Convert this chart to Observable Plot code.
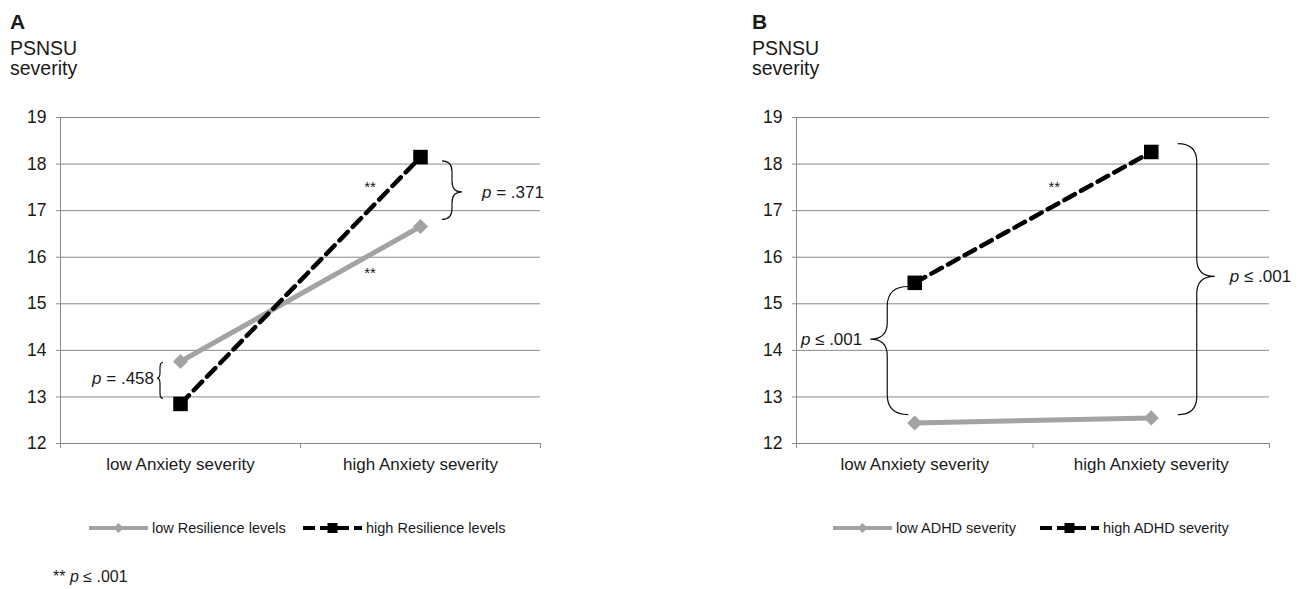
<!DOCTYPE html>
<html><head><meta charset="utf-8">
<script src="https://cdn.jsdelivr.net/npm/d3@7"></script>
<script src="https://cdn.jsdelivr.net/npm/@observablehq/plot@0.6"></script>
<style>
body{margin:0;background:#fff;font-family:"Liberation Sans",Arial,sans-serif;color:#1a1a1a}
#wrap{position:relative;width:1309px;height:589px;overflow:hidden;background:#fff}
.abs{position:absolute;white-space:nowrap}
.letter{font-weight:bold;font-size:21px;line-height:21px}
.ylab{font-size:19.5px;line-height:19.5px}
.leg{position:absolute;display:flex;align-items:center;height:20px;font-size:14.5px;white-space:nowrap}
.leg svg{margin-right:4px}
.foot{font-size:16px;line-height:16px}
</style></head><body><div id="wrap"></div>
<script>
// ---- data ----
const categories = ["low Anxiety severity", "high Anxiety severity"];
const yTicks = [12, 13, 14, 15, 16, 17, 18, 19];
const resilienceLow = [13.76, 16.66];
const resilienceHigh = [12.85, 18.15];
const adhdLow = [12.44, 12.55];
const adhdHigh = [15.45, 18.26];
const seriesNamesA = ["low Resilience levels", "high Resilience levels"];
const seriesNamesB = ["low ADHD severity", "high ADHD severity"];
const bracketLabelsA = ["= .458", "= .371"];
const bracketLabelsB = ["\u2264 .001", "\u2264 .001"];
const bracketTopA = [13.73, 18.06];
const bracketBottomA = [12.96, 16.80];
const bracketTopB = [15.36, 18.43];
const bracketBottomB = [12.61, 12.61];
const starXA = [1.29, 1.29];
const starYA = [17.50, 15.65];
const starXB = [1.09];
const starYB = [17.50];

const GRAY = "#a3a3a3";
const AXIS = "#8a8a8a";
const FONT = "'Liberation Sans', Arial, sans-serif";

// geometry of the braces (pixel offsets from category centre), style only
const geomA = [
  {arm: -17, mid: -20, tip: -23, tipFrac: 0.44, gap: 3},
  {arm: 22, mid: 32, tip: 42, tipFrac: 0.53, gap: 20}
];
const geomB = [
  {arm: -6, mid: -27, tip: -44, tipFrac: 0.41, gap: 8},
  {arm: 27, mid: 46, tip: 64, tipFrac: 0.49, gap: 15}
];

function bracesMark(tops, bottoms, labels, geom) {
  return (index, scales) => {
    const g = d3.create("svg:g");
    tops.forEach((t, i) => {
      const gm = geom[i];
      const cx = scales.x(i + 0.5);
      const yT = scales.y(t), yB = scales.y(bottoms[i]);
      const yM = yT + (yB - yT) * gm.tipFrac;
      const xa = cx + gm.arm, xm = cx + gm.mid, xt = cx + gm.tip;
      const rA = Math.min(Math.abs(xm - xa) * 0.8 + 3, (yM - yT) / 2, (yB - yM) / 2);
      const rT = Math.min(Math.abs(xt - xm) * 0.8 + 3, (yM - yT) / 2, (yB - yM) / 2);
      const d = `M${xa},${yT} Q${xm},${yT} ${xm},${yT + rA} L${xm},${yM - rT} Q${xm},${yM} ${xt},${yM}` +
                ` Q${xm},${yM} ${xm},${yM + rT} L${xm},${yB - rA} Q${xm},${yB} ${xa},${yB}`;
      g.append("path").attr("d", d).attr("fill", "none").attr("stroke", "#111").attr("stroke-width", 1.2);
      const left = gm.tip < gm.mid;
      const tx = left ? xt - gm.gap : xt + gm.gap;
      const text = g.append("text").attr("x", tx).attr("y", yM).attr("dy", "0.35em")
        .attr("text-anchor", left ? "end" : "start").attr("font-size", 17).attr("fill", "#1a1a1a");
      text.append("tspan").attr("font-style", "italic").text("p");
      text.append("tspan").text(" " + labels[i]);
    });
    return g.node();
  };
}

function panel(lowVals, highVals, tops, bottoms, labels, geom, starX, starY, width, marginRight) {
  const low = categories.map((c, i) => ({x: i + 0.5, y: lowVals[i]}));
  const high = categories.map((c, i) => ({x: i + 0.5, y: highVals[i]}));
  const stars = starX.map((x, i) => ({x, y: starY[i]}));
  return Plot.plot({
    width, height: 380,
    marginLeft: 60, marginRight, marginTop: 17, marginBottom: 37,
    x: {domain: [0, 2], axis: null},
    y: {domain: [12, 19], axis: null},
    style: {fontFamily: FONT, fontSize: "17px", color: "#1a1a1a", background: "transparent", overflow: "visible"},
    marks: [
      Plot.gridY({ticks: yTicks, stroke: AXIS, strokeOpacity: 1, strokeWidth: 1}),
      Plot.ruleX([0], {stroke: AXIS, strokeWidth: 1}),
      Plot.axisY({ticks: yTicks, tickFormat: d3.format("d"), tickSize: 4, tickPadding: 10, stroke: AXIS, fill: "#1a1a1a", fontSize: 17.5, label: null}),
      Plot.axisX({ticks: [0, 1, 2], tickFormat: () => "", tickSize: 5, stroke: AXIS, label: null}),
      Plot.axisX({ticks: [0.5, 1.5], tickFormat: d => categories[Math.round(d - 0.5)], tickSize: 0, tickPadding: 14, fill: "#1a1a1a", fontSize: 17, label: null}),
      Plot.line(low, {x: "x", y: "y", stroke: GRAY, strokeWidth: 5}),
      Plot.dot(low, {x: "x", y: "y", symbol: "diamond2", r: 6.8, fill: GRAY, stroke: null}),
      Plot.line(high, {x: "x", y: "y", stroke: "#000", strokeWidth: 4.5, strokeDasharray: "12,7"}),
      Plot.dot(high, {x: "x", y: "y", symbol: "square", r: 8.2, fill: "#000", stroke: null}),
      Plot.text(stars, {x: "x", y: "y", text: () => "**", fontSize: 15, fill: "#1a1a1a"}),
      bracesMark(tops, bottoms, labels, geom)
    ]
  });
}

const wrap = document.getElementById("wrap");
function place(el, left, top) {
  el.style.position = "absolute"; el.style.left = left + "px"; el.style.top = top + "px";
  wrap.appendChild(el); return el;
}
function div(cls, html, left, top) {
  const d = document.createElement("div"); d.className = "abs " + cls; d.innerHTML = html;
  return place(d, left, top);
}

// headers
div("letter", "A", 10, 11);
div("ylab", "PSNSU", 10, 38.5);
div("ylab", "severity", 10, 59);
div("letter", "B", 752, 11);
div("ylab", "PSNSU", 752, 38.5);
div("ylab", "severity", 752, 59);

place(panel(resilienceLow, resilienceHigh, bracketTopA, bracketBottomA, bracketLabelsA, geomA, starXA, starYA, 560, 20), 0, 100);
place(panel(adhdLow, adhdHigh, bracketTopB, bracketBottomB, bracketLabelsB, geomB, starXB, starYB, 573, 40), 736, 100);

// legends
function swatch(kind) {
  const s = d3.create("svg").attr("width", 59).attr("height", 16);
  if (kind === "low") {
    s.append("line").attr("x1", 0).attr("x2", 59).attr("y1", 8).attr("y2", 8).attr("stroke", GRAY).attr("stroke-width", 4);
    s.append("path").attr("d", "M29.5,3 L34.5,8 L29.5,13 L24.5,8 Z").attr("fill", GRAY);
  } else {
    s.append("line").attr("x1", 0).attr("x2", 59).attr("y1", 8).attr("y2", 8).attr("stroke", "#000").attr("stroke-width", 4).attr("stroke-dasharray", "12,5");
    s.append("rect").attr("x", 24.5).attr("y", 3).attr("width", 10).attr("height", 10).attr("fill", "#000");
  }
  return s.node();
}
function legendItem(kind, name, left) {
  const d = document.createElement("div"); d.className = "leg";
  d.appendChild(swatch(kind));
  const sp = document.createElement("span"); sp.textContent = name; d.appendChild(sp);
  place(d, left, 518);
}
legendItem("low", seriesNamesA[0], 89);
legendItem("high", seriesNamesA[1], 303);
legendItem("low", seriesNamesB[0], 833);
legendItem("high", seriesNamesB[1], 1040);

div("foot", "** <i>p</i> \u2264 .001", 53, 569);
</script></body></html>
